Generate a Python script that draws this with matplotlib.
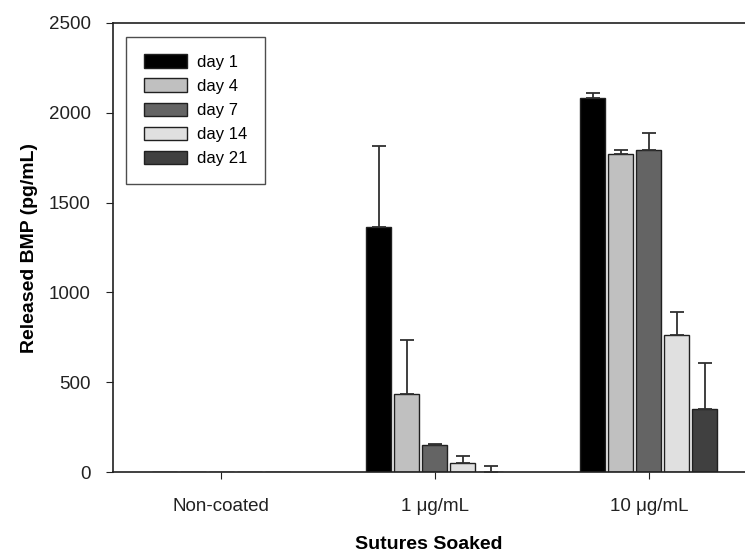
import numpy as np
import matplotlib.pyplot as plt

plt.rcParams['font.family'] = ['Liberation Sans', 'DejaVu Sans']

groups = ['Non-coated', '1 \u03bcg/mL', '10 \u03bcg/mL']
days = ['day 1', 'day 4', 'day 7', 'day 14', 'day 21']
colors = ['#000000', '#c0c0c0', '#646464', '#e0e0e0', '#404040']

# mean release per day, one list per group order above
day1 = [0, 1362, 2083]
day4 = [0, 435, 1769]
day7 = [0, 151, 1791]
day14 = [0, 50, 765]
day21 = [0, 0, 351]
means = [day1, day4, day7, day14, day21]

err1 = [0, 452, 28]
err4 = [0, 302, 22]
err7 = [0, 5, 97]
err14 = [0, 39, 124]
err21 = [0, 33, 257]
errs = [err1, err4, err7, err14, err21]

fig = plt.figure(figsize=(7.45, 5.6), dpi=100)
ax = fig.add_axes([0.1517, 0.157, 0.8483, 0.802])

x = np.arange(len(groups))
width = 0.117
step = 0.131
for i, (m, e, c, lab) in enumerate(zip(means, errs, colors, days)):
    pos = x + (i - 2) * step
    ax.bar(pos, m, width, color=c, edgecolor='#202020', linewidth=1, label=lab, zorder=2)
    sel = [k for k in range(len(groups)) if e[k] > 0]
    ax.errorbar(pos[sel], np.array(m)[sel], yerr=[np.zeros(len(sel)), np.array(e)[sel]],
                fmt='none', ecolor='#303030', elinewidth=1.3, capsize=5, capthick=1.3, zorder=3)

ax.set_xlim(-0.505, 2.45)
ax.set_ylim(0, 2500)
ax.set_yticks([0, 500, 1000, 1500, 2000, 2500])
ax.set_xticks(x)
ax.set_xticklabels(groups)
ax.tick_params(axis='both', labelsize=13.5, direction='out', length=5, colors='#202020', labelcolor='#222222')
ax.tick_params(axis='x', pad=14)
ax.tick_params(axis='y', pad=11)
ax.spines['right'].set_visible(False)
for s in ['left', 'top', 'bottom']:
    ax.spines[s].set_color('#202020')
    ax.spines[s].set_linewidth(1.2)

ax.set_ylabel('Released BMP (pg/mL)', fontsize=14, fontweight='bold', labelpad=8)
ax.set_xlabel('Sutures Soaked', fontsize=14, fontweight='bold', labelpad=15)

leg = ax.legend(loc='upper left', bbox_to_anchor=(0.0206, 0.969), borderaxespad=0,
                fontsize=12, frameon=True, fancybox=False, edgecolor='#202020',
                handlelength=2.6, handleheight=0.85, handletextpad=0.6,
                labelspacing=0.52, borderpad=1.05)
leg.get_frame().set_linewidth(1.0)

fig.savefig('out.png', dpi=100)
